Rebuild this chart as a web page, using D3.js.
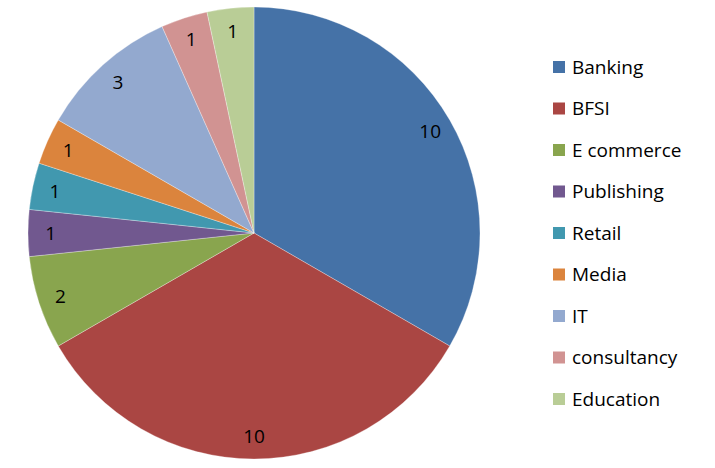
<!DOCTYPE html>
<html><head><meta charset="utf-8">
<script src="https://cdn.jsdelivr.net/npm/d3@7"></script>
<style>body{margin:0;background:#fff}svg{display:block}</style>
</head><body>
<svg id="c" width="715" height="468"></svg>
<script>
const categories = ["Banking","BFSI","E commerce","Publishing","Retail","Media","IT","consultancy","Education"];
const values = [10,10,2,1,1,1,3,1,1];
const colors = ["#4572A7","#AA4643","#89A54E","#71588F","#4198AF","#DB843D","#93A9CF","#D19392","#B9CD96"];

const svg = d3.select("#c");
const cx = 254, cy = 233, R = 226;
const font = "'Open Sans', 'Liberation Sans', sans-serif";

const data = categories.map((c,i)=>({name:c, value:values[i], color:colors[i]}));
const pie = d3.pie().value(d=>d.value).sort(null);
const arcs = pie(data);
const arc = d3.arc().innerRadius(0).outerRadius(R);
const labelArc = d3.arc().innerRadius(R*0.9).outerRadius(R*0.9);

const g = svg.append("g").attr("transform",`translate(${cx},${cy})`);
g.selectAll("path").data(arcs).join("path")
  .attr("d",arc).attr("fill",d=>d.data.color)
  .attr("stroke","#ffffff").attr("stroke-width",0.6).attr("stroke-opacity",0.5);

g.selectAll("text").data(arcs).join("text")
  .attr("transform",d=>`translate(${labelArc.centroid(d)})`)
  .attr("text-anchor","middle").attr("dy","0.36em")
  .attr("font-family",font).attr("font-size",19).attr("fill","#000")
  .text(d=>d.data.value);

const leg = svg.append("g");
const color = d3.scaleOrdinal().domain(categories).range(colors);
const y = d3.scalePoint().domain(categories).range([67,399]);
const items = leg.selectAll("g").data(categories).join("g")
  .attr("transform",d=>`translate(553,${y(d)})`);
items.append("rect").attr("x",0).attr("y",-6).attr("width",12).attr("height",12)
  .attr("fill",d=>color(d));
items.append("text").attr("x",19).attr("dy","0.36em")
  .attr("font-family",font).attr("font-size",19).attr("fill","#000")
  .text(d=>d);
</script>
</body></html>
